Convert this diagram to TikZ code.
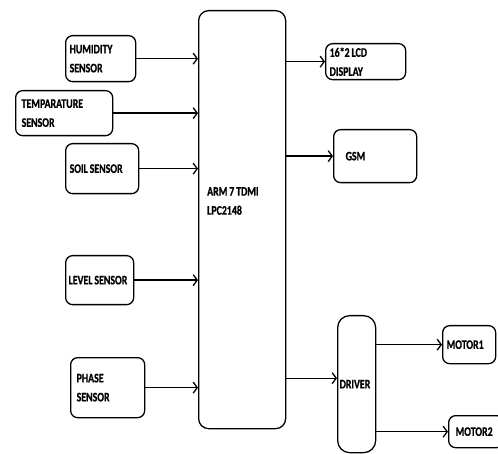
\documentclass[tikz,border=0pt]{standalone}
\usepackage{fontspec}
\setmainfont{Carlito}[FakeStretch=0.76, WordSpace=0.85, BoldFeatures={FakeBold=0.8}]
\usetikzlibrary{arrows.meta}
\tikzset{
  blk/.style={draw, line width=1.3pt, rounded corners=7pt, anchor=north west,
    align=flush left, inner xsep=4pt, inner ysep=0pt,
    font=\bfseries\fontsize{13}{19}\selectfont},
  lbl/.style={align=flush left, inner sep=0pt, font=\bfseries\fontsize{13}{19}\selectfont},
  arr/.style={line width=1.3pt, -{Straight Barb[length=4pt,width=11pt,line width=1.3pt]}}
}
\begin{document}
\begin{tikzpicture}[x=1pt,y=-1pt]
    \useasboundingbox (0,0) rectangle (498,454);

    % controller
    \node[blk, rounded corners=10pt, minimum width=87pt, minimum height=418pt] (arm) at (198,10) {};
    \node[lbl, anchor=west] (armtxt) at (207,201) {ARM 7 TDMI\\LPC2148};

    % inputs
    \node[blk, text width=62pt, minimum height=46pt] (hum) at (65,35) {HUMIDITY\\SENSOR};
    \node[blk, text width=85pt, inner xsep=6pt, minimum height=45pt] (temp) at (15,90) {TEMPARATURE\\SENSOR};
    \node[blk, text width=65pt, minimum height=50pt] (soil) at (65,143) {SOIL SENSOR};
    \node[blk, text width=62pt, inner xsep=3pt, minimum height=49pt] (lvl) at (65,255) {\mbox{LEVEL SENSOR}};
    \node[blk, text width=62pt, inner xsep=6pt, minimum height=60pt] (phase) at (70,357) {PHASE\\SENSOR};

    % outputs
    \node[blk, text width=72pt, minimum height=36pt] (lcd) at (325,43) {16*2 LCD\\DISPLAY};
    \node[blk, text width=59pt, inner xsep=12pt, minimum height=53pt] (gsm) at (333,129) {GSM};
    \node[blk, rounded corners=12pt, text width=34pt, inner xsep=2pt, minimum height=137pt] (drv) at (337,315) {DRIVER};
    \node[blk, text width=45pt, minimum height=38pt] (mot1) at (442,325) {MOTOR1};
    \node[blk, text width=41pt, inner xsep=7pt, minimum height=32pt] (mot2) at (448,415) {MOTOR2};

    \draw[arr] (hum.east) -- (hum.east -| arm.west);
    \draw[arr] (temp.east) -- (temp.east -| arm.west);
    \draw[arr] (soil.east) -- (soil.east -| arm.west);
    \draw[arr] (lvl.east) -- (lvl.east -| arm.west);
    \draw[arr] (phase.east) -- (phase.east -| arm.west);

    \draw[arr] (arm.east |- lcd.west) -- (lcd.west);
    \draw[arr] (arm.east |- gsm.west) -- (gsm.west);
    \draw[arr] ([yshift=6pt]arm.east |- drv.west) -- ([yshift=6pt]drv.west);
    \draw[arr] (drv.east |- mot1.west) -- (mot1.west);
    \draw[arr] (drv.east |- mot2.west) -- (mot2.west);
\end{tikzpicture}
\end{document}
